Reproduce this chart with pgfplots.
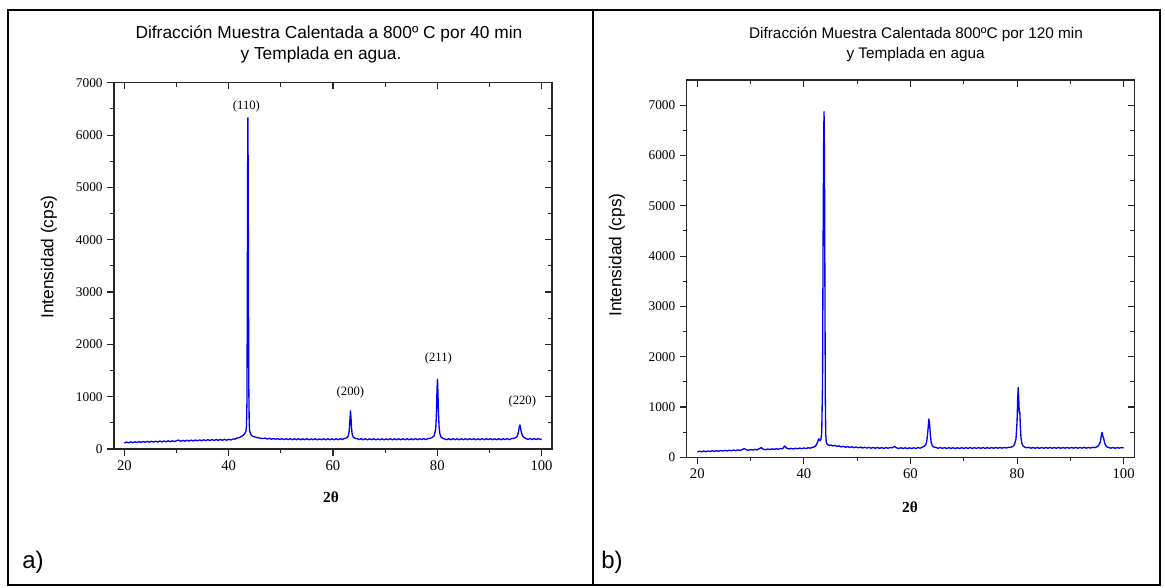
\documentclass[border=0pt]{standalone}
\usepackage{fontspec}
\setmainfont{Liberation Serif}
\newfontfamily\arial{Liberation Sans}
\usepackage{pgfplots}
\pgfplotsset{compat=1.18}
\pgfplotsset{
  xrd/.style={scale only axis, xmin=18, xmax=102, ymin=0,
    axis line style={line width=0.9pt, draw=black!85},
    major tick length=5pt, minor tick length=3pt,
    every tick/.style={black!85, line width=0.8pt},
    xtick={20,40,...,100}, minor x tick num=1,
    ytick={0,1000,...,7000}, minor y tick num=1,
    scaled ticks=false,
    /pgf/number format/1000 sep={},
    /pgf/number format/assume math mode=true,
    xticklabel style={font=\fontsize{11}{11}\selectfont},
    yticklabel style={font=\fontsize{10}{10}\selectfont},
  },
  xrdmain/.style={xrd, tick align=outside, xtick pos=left, ytick pos=left},
  xrdmirror/.style={xrd, tick align=inside, xtick pos=right, ytick pos=right,
    xticklabels={}, yticklabels={}},
}
\tikzset{peak/.style={font=\fontsize{9.5}{9.5}\selectfont, inner sep=0pt}}
\begin{document}
\begin{tikzpicture}
\path (0,0) rectangle (873.75pt,441pt);
% ---------- panel a ----------
\begin{axis}[xrdmirror, at={(85.5pt,104.25pt)}, anchor=south west,
  width=328.5pt, height=274.7pt, ymax=7000]
\end{axis}
\begin{axis}[xrdmain, at={(85.5pt,104.25pt)}, anchor=south west,
  width=328.5pt, height=274.7pt, ymax=7000]
\addplot[blue, line width=1.0pt, line join=round] table {
20.0 112
20.4 134
20.8 118
21.2 137
21.6 120
22.0 139
22.4 122
22.8 141
23.2 125
23.6 143
24.0 127
24.4 146
24.8 129
25.2 148
25.6 131
26.0 150
26.4 133
26.8 152
27.2 135
27.6 154
28.0 137
28.4 156
28.8 139
29.2 158
29.6 141
30.0 160
30.4 170
30.8 146
31.2 165
31.6 149
32.0 168
32.4 151
32.8 170
33.2 154
33.6 172
34.0 156
34.4 174
34.8 158
35.2 176
35.6 160
36.0 178
36.4 162
36.8 180
37.2 163
37.6 181
38.0 164
38.4 183
38.8 166
39.2 185
39.6 168
40.0 187
40.4 172
40.8 192
41.2 188
41.6 210
42.0 215
42.3 236
42.6 250
42.9 275
43.1 300
43.3 340
43.4 430
43.5 900
43.56 2600
43.62 5200
43.68 6330
43.74 5100
43.8 2800
43.86 1100
43.93 520
44.0 360
44.15 300
44.3 268
44.5 250
44.8 236
45.1 228
45.4 218
45.8 212
46.2 204
46.6 200
47.0 210
47.4 190
47.8 205
48.2 186
48.6 202
49.0 184
49.4 200
49.8 181
50.2 198
50.6 179
51.0 196
51.4 180
51.8 198
52.2 177
52.6 195
53.0 178
53.4 197
53.8 176
54.2 194
54.6 178
55.0 197
55.4 175
55.8 193
56.2 177
56.6 196
57.0 174
57.4 193
57.8 176
58.2 195
58.6 175
59.0 194
59.4 177
59.8 196
60.2 176
60.6 195
61.0 178
61.4 197
61.8 182
62.2 201
62.6 212
62.9 245
63.1 330
63.25 560
63.35 730
63.45 600
63.55 400
63.7 270
63.9 225
64.2 205
64.6 198
65.0 180
65.4 197
65.8 176
66.2 195
66.6 175
67.0 194
67.4 177
67.8 196
68.2 174
68.6 193
69.0 176
69.4 195
69.8 175
70.2 194
70.6 177
71.0 197
71.4 175
71.8 194
72.2 177
72.6 196
73.0 176
73.4 195
73.8 178
74.2 198
74.6 176
75.0 195
75.4 178
75.8 197
76.2 177
76.6 196
77.0 180
77.4 199
77.8 179
78.2 198
78.6 204
79.0 218
79.4 252
79.7 380
79.85 700
79.95 1150
80.04 1330
80.12 1100
80.22 700
80.35 420
80.5 290
80.7 230
81.0 208
81.4 192
81.8 178
82.2 197
82.6 177
83.0 196
83.4 178
83.8 197
84.2 176
84.6 195
85.0 178
85.4 197
85.8 177
86.2 196
86.6 179
87.0 198
87.4 176
87.8 195
88.2 178
88.6 197
89.0 177
89.4 196
89.8 179
90.2 198
90.6 176
91.0 195
91.4 178
91.8 197
92.2 177
92.6 196
93.0 180
93.4 199
93.8 179
94.2 198
94.6 202
95.0 214
95.3 240
95.55 320
95.75 430
95.85 459
95.95 420
96.1 330
96.3 260
96.6 222
97.0 200
97.4 184
97.8 201
98.2 180
98.6 199
99.0 181
99.4 198
99.8 183
100.0 192
};
\node[peak] at (axis cs:43.4,6545) {(110)};
\node[peak] at (axis cs:63.35,1084) {(200)};
\node[peak] at (axis cs:80.2,1734) {(211)};
\node[peak] at (axis cs:96.3,918) {(220)};
\end{axis}
% ---------- panel b ----------
\begin{axis}[xrdmirror, at={(515pt,98pt)}, anchor=south west,
  width=335.7pt, height=283pt, ymax=7500]
\end{axis}
\begin{axis}[xrdmain, at={(515pt,98pt)}, anchor=south west,
  width=335.7pt, height=283pt, ymax=7500]
\addplot[blue, line width=1.0pt, line join=round] table {
20.0 105
20.4 122
20.8 110
21.2 126
21.6 112
22.0 128
22.4 115
22.8 131
23.2 118
23.6 133
24.0 120
24.4 136
24.8 124
25.2 139
25.6 127
26.0 142
26.4 130
26.8 145
27.2 133
27.6 148
28.0 137
28.4 152
28.8 175
29.2 150
29.6 141
30.0 156
30.4 144
30.8 159
31.2 148
31.6 170
32.0 192
32.4 160
32.8 151
33.2 166
33.6 154
34.0 169
34.4 157
34.8 172
35.2 160
35.6 175
36.0 170
36.4 225
36.8 180
37.2 165
37.6 178
38.0 166
38.4 181
38.8 169
39.2 184
39.6 172
40.0 187
40.4 175
40.8 190
41.2 183
41.6 198
42.0 210
42.3 240
42.6 310
42.8 370
43.0 330
43.2 360
43.35 500
43.5 1500
43.6 4200
43.7 6200
43.78 6870
43.86 6000
43.94 3500
44.02 1200
44.1 450
44.2 300
44.35 262
44.5 250
44.8 236
45.1 245
45.4 226
45.8 238
46.2 218
46.6 228
47.0 206
47.4 220
47.8 200
48.2 214
48.6 196
49.0 210
49.4 192
49.8 206
50.2 188
50.6 203
51.0 186
51.4 200
51.8 184
52.2 198
52.6 182
53.0 197
53.4 180
53.8 195
54.2 179
54.6 194
55.0 178
55.4 193
55.8 180
56.2 195
56.6 190
57.0 215
57.4 188
57.8 176
58.2 191
58.6 175
59.0 190
59.4 174
59.8 189
60.2 175
60.6 190
61.0 176
61.4 192
61.8 182
62.2 200
62.6 222
62.9 260
63.1 350
63.3 560
63.45 760
63.6 650
63.75 420
63.9 290
64.1 230
64.4 205
64.8 195
65.2 180
65.6 194
66.0 178
66.4 193
66.8 177
67.2 192
67.6 176
68.0 191
68.4 175
68.8 190
69.2 176
69.6 191
70.0 177
70.4 192
70.8 178
71.2 193
71.6 177
72.0 192
72.4 178
72.8 193
73.2 179
73.6 194
74.0 178
74.4 193
74.8 179
75.2 194
75.6 180
76.0 195
76.4 181
76.8 196
77.2 182
77.6 197
78.0 185
78.4 200
78.8 198
79.2 215
79.5 250
79.8 360
80.0 700
80.12 1150
80.22 1390
80.32 1150
80.42 880
80.52 900
80.62 620
80.75 380
80.9 280
81.1 230
81.4 205
81.8 190
82.2 198
82.6 182
83.0 196
83.4 180
83.8 195
84.2 179
84.6 194
85.0 180
85.4 195
85.8 181
86.2 196
86.6 180
87.0 195
87.4 181
87.8 196
88.2 180
88.6 195
89.0 182
89.4 197
89.8 181
90.2 196
90.6 182
91.0 197
91.4 181
91.8 196
92.2 183
92.6 198
93.0 182
93.4 197
93.8 184
94.2 199
94.6 192
95.0 210
95.3 235
95.6 300
95.8 420
95.95 497
96.1 420
96.25 380
96.4 300
96.6 240
96.9 205
97.2 195
97.6 182
98.0 196
98.4 180
98.8 194
99.2 182
99.6 196
100.0 185
};
\end{axis}
% ---------- texts ----------
\node[font=\arial\fontsize{13}{13}\selectfont] at (246.75pt,415.5pt) {Difracción Muestra Calentada a 800º C por 40 min};
\node[font=\arial\fontsize{13}{13}\selectfont] at (240.75pt,399.75pt) {y Templada en agua.};
\node[font=\arial\fontsize{11.5}{11.5}\selectfont] at (687pt,415.5pt) {Difracción Muestra Calentada 800ºC por 120 min};
\node[font=\arial\fontsize{11.5}{11.5}\selectfont] at (686.7pt,399.75pt) {y Templada en agua};
\node[font=\arial\fontsize{13}{13}\selectfont, rotate=90] at (36.75pt,248.25pt) {Intensidad (cps)};
\node[font=\arial\fontsize{13}{13}\selectfont, rotate=90] at (462.75pt,249.75pt) {Intensidad (cps)};
\node[font=\bfseries\fontsize{11.5}{11.5}\selectfont] at (248.25pt,68.25pt) {2θ};
\node[font=\bfseries\fontsize{11.5}{11.5}\selectfont] at (682.5pt,60.75pt) {2θ};
\node[font=\arial\fontsize{18}{18}\selectfont, anchor=west, inner sep=0pt] at (16.5pt,19.5pt) {a)};
\node[font=\arial\fontsize{18}{18}\selectfont, anchor=west, inner sep=0pt] at (450.75pt,19.5pt) {b)};
% ---------- frame ----------
\draw[line width=1.2pt] (6pt,2.25pt) rectangle (870pt,433.5pt);
\draw[line width=1.2pt] (444.75pt,2.25pt) -- (444.75pt,433.5pt);
\end{tikzpicture}
\end{document}
